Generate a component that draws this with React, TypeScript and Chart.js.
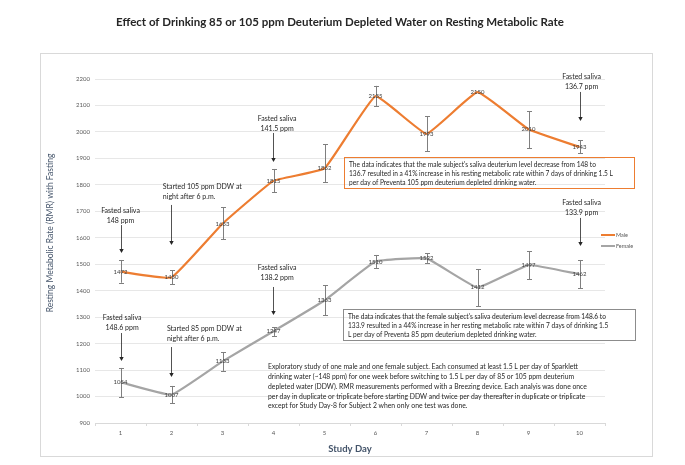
import React, { useEffect, useRef } from "react";
import { Chart, registerables } from "chart.js";

Chart.register(...registerables);

const days = ["1", "2", "3", "4", "5", "6", "7", "8", "9", "10"];
const yTicks = [900, 1000, 1100, 1200, 1300, 1400, 1500, 1600, 1700, 1800, 1900, 2000, 2100, 2200];

const maleValues = [1472, 1450, 1653, 1815, 1862, 2135, 1993, 2150, 2010, 1943];
const maleErrHigh = [1516, 1478, 1716, 1860, 1954, 2174, 2060, null, 2079, 1969];
const maleErrLow = [1430, 1425, 1595, 1773, 1811, 2098, 1928, null, 1939, 1920];

const femaleValues = [1054, 1007, 1133, 1247, 1363, 1510, 1522, 1412, 1497, 1462];
const femaleErrHigh = [1108, 1040, 1168, 1262, 1421, 1535, 1542, 1482, 1550, 1516];
const femaleErrLow = [998, 975, 1097, 1229, 1308, 1486, 1505, 1342, 1444, 1410];

const titleText = "Effect of Drinking 85 or 105 ppm Deuterium Depleted Water on Resting Metabolic Rate";
const xTitle = "Study Day";
const yTitle = "Resting Metabolic Rate (RMR) with Fasting";

// annotations: text anchored in data space (category index, value)
const annotations = [
  { lines: ["Fasted saliva", "148 ppm"], tx: 0, ty: 1701, align: "center", ax: 0, a1: 1648, a2: 1542 },
  { lines: ["Started 105 ppm DDW at", "night after 6 p.m."], tx: 0.83, ty: 1792, align: "left", ax: 0.99, a1: 1724, a2: 1573 },
  { lines: ["Fasted saliva", "141.5 ppm"], tx: 3.07, ty: 2049, align: "center", ax: 2.99, a1: 1996, a2: 1886 },
  { lines: ["Fasted saliva", "136.7 ppm"], tx: 9.04, ty: 2208, align: "center", ax: 9.0, a1: 2151, a2: 2041 },
  { lines: ["Fasted saliva", "133.9 ppm"], tx: 9.04, ty: 1731, align: "center", ax: 9.0, a1: 1675, a2: 1569 },
  { lines: ["Fasted saliva", "148.6 ppm"], tx: 0.03, ty: 1297, align: "center", ax: 0, a1: 1240, a2: 1134 },
  { lines: ["Started 85 ppm DDW at", "night after 6 p.m."], tx: 0.91, ty: 1255, align: "left", ax: 0.99, a1: 1187, a2: 1074 },
  { lines: ["Fasted saliva", "138.2 ppm"], tx: 3.07, ty: 1486, align: "center", ax: 2.99, a1: 1414, a2: 1308 },
];

const maleNote = [
  "The data indicates that the male subject's saliva deuterium level decrease from 148 to",
  "136.7 resulted in a 41% increase in his resting metabolic rate within 7 days of drinking 1.5 L",
  "per day of Preventa 105 ppm deuterium depleted drinking water.",
];
const femaleNote = [
  "The data indicates that the female subject's saliva deuterium level decrease from 148.6 to",
  "133.9 resulted in a 44% increase in her resting metabolic rate within 7 days of drinking 1.5",
  "L per day of Preventa 85 ppm deuterium depleted drinking water.",
];
const studyNote = [
  "Exploratory study of one male and one female subject. Each consumed at least 1.5 L per day of Sparklett",
  "drinking water (~148 ppm) for one week before switching to 1.5 L per day of 85 or 105 ppm deuterium",
  "depleted water (DDW). RMR measurements performed with a Breezing device. Each analyis was done once",
  "per day in duplicate or triplicate before starting DDW and twice per day thereafter in duplicate or triplicate",
  "except for Study Day-8 for Subject 2 when only one test was done.",
];

const MALE_COLOR = "#ED7D31";
const FEMALE_COLOR = "#A5A5A5";
const FONT = "Lato, 'Open Sans', sans-serif";

function drawLines(ctx: CanvasRenderingContext2D, lines: string[], x: number, y: number, lh: number, align: CanvasTextAlign) {
  ctx.textAlign = align;
  ctx.textBaseline = "middle";
  lines.forEach((l, i) => ctx.fillText(l, x, y + i * lh));
}

const decorPlugin = {
  id: "decor",
  beforeDraw(chart: any) {
    const ctx: CanvasRenderingContext2D = chart.ctx;
    ctx.save();
    ctx.fillStyle = "#ffffff";
    ctx.fillRect(0, 0, chart.width, chart.height);
    ctx.strokeStyle = "#d9d9d9";
    ctx.lineWidth = 1;
    ctx.strokeRect(40.5, 53.5, 612, 403);
    ctx.restore();
  },
  afterDatasetsDraw(chart: any) {
    const ctx: CanvasRenderingContext2D = chart.ctx;
    const xs = chart.scales.x;
    const ys = chart.scales.y;
    ctx.save();
    const drawErr = (hi: (number | null)[], lo: (number | null)[]) => {
      ctx.strokeStyle = "#7f7f7f";
      ctx.lineWidth = 1;
      hi.forEach((h, i) => {
        const l = lo[i];
        if (h == null || l == null) return;
        const x = Math.round(xs.getPixelForValue(i)) + 0.5;
        const y1 = ys.getPixelForValue(h);
        const y2 = ys.getPixelForValue(l);
        ctx.beginPath();
        ctx.moveTo(x, y1);
        ctx.lineTo(x, y2);
        ctx.moveTo(x - 2.5, Math.round(y1) + 0.5);
        ctx.lineTo(x + 2.5, Math.round(y1) + 0.5);
        ctx.moveTo(x - 2.5, Math.round(y2) + 0.5);
        ctx.lineTo(x + 2.5, Math.round(y2) + 0.5);
        ctx.stroke();
      });
    };
    drawErr(maleErrHigh, maleErrLow);
    drawErr(femaleErrHigh, femaleErrLow);
    ctx.fillStyle = "#404040";
    ctx.font = `6px ${FONT}`;
    ctx.textAlign = "center";
    ctx.textBaseline = "middle";
    maleValues.forEach((v, i) => ctx.fillText(String(v), xs.getPixelForValue(i), ys.getPixelForValue(v)));
    femaleValues.forEach((v, i) => ctx.fillText(String(v), xs.getPixelForValue(i), ys.getPixelForValue(v)));
    ctx.restore();
  },
  afterDraw(chart: any) {
    const ctx: CanvasRenderingContext2D = chart.ctx;
    const xs = chart.scales.x;
    const ys = chart.scales.y;
    ctx.save();
    ctx.fillStyle = "#262626";
    ctx.font = `bold 11.5px ${FONT}`;
    drawLines(ctx, [titleText], 340, 22, 0, "center");
    ctx.fillStyle = "#44546A";
    ctx.font = `bold 9.5px ${FONT}`;
    drawLines(ctx, [xTitle], 350, 449, 0, "center");
    ctx.save();
    ctx.translate(50, 233);
    ctx.rotate(-Math.PI / 2);
    ctx.font = `8.5px ${FONT}`;
    drawLines(ctx, [yTitle], 0, 0, 0, "center");
    ctx.restore();
    ctx.fillStyle = "#262626";
    ctx.strokeStyle = "#262626";
    ctx.font = `7px ${FONT}`;
    annotations.forEach((a) => {
      drawLines(ctx, a.lines, xs.getPixelForValue(a.tx), ys.getPixelForValue(a.ty), 9.5, a.align as CanvasTextAlign);
      const ax = Math.round(xs.getPixelForValue(a.ax)) + 0.5;
      const y1 = ys.getPixelForValue(a.a1);
      const y2 = ys.getPixelForValue(a.a2);
      ctx.lineWidth = 0.8;
      ctx.beginPath();
      ctx.moveTo(ax, y1);
      ctx.lineTo(ax, y2 - 3);
      ctx.stroke();
      ctx.beginPath();
      ctx.moveTo(ax - 2.2, y2 - 4);
      ctx.lineTo(ax + 2.2, y2 - 4);
      ctx.lineTo(ax, y2);
      ctx.closePath();
      ctx.fill();
    });
    ctx.font = `6.6px ${FONT}`;
    ctx.lineWidth = 1;
    ctx.strokeStyle = MALE_COLOR;
    ctx.strokeRect(344.5, 157.5, 290, 31);
    ctx.fillStyle = "#262626";
    drawLines(ctx, maleNote, 349, 165, 9, "left");
    ctx.strokeStyle = "#8c8c8c";
    ctx.strokeRect(343.5, 309.5, 292, 31);
    drawLines(ctx, femaleNote, 348, 317, 9, "left");
    ctx.font = `6.8px ${FONT}`;
    drawLines(ctx, studyNote, 268, 367, 9.8, "left");
    ctx.lineWidth = 2;
    ctx.strokeStyle = MALE_COLOR;
    ctx.beginPath();
    ctx.moveTo(601, 235);
    ctx.lineTo(615, 235);
    ctx.stroke();
    ctx.strokeStyle = FEMALE_COLOR;
    ctx.beginPath();
    ctx.moveTo(601, 246);
    ctx.lineTo(615, 246);
    ctx.stroke();
    ctx.fillStyle = "#595959";
    ctx.font = `5.5px ${FONT}`;
    drawLines(ctx, ["Male"], 616, 235, 0, "left");
    drawLines(ctx, ["Female"], 616, 246, 0, "left");
    ctx.restore();
  },
};

export default function App() {
  const ref = useRef<HTMLCanvasElement>(null);
  useEffect(() => {
    if (!ref.current) return;
    const chart = new Chart(ref.current, {
      type: "line",
      data: {
        labels: days,
        datasets: [
          { label: "Male", data: maleValues, borderColor: MALE_COLOR, borderWidth: 2.25, pointRadius: 0, tension: 0.1, fill: false },
          { label: "Female", data: femaleValues, borderColor: FEMALE_COLOR, borderWidth: 2.25, pointRadius: 0, tension: 0.1, fill: false },
        ],
      },
      options: {
        responsive: false,
        animation: false,
        layout: { padding: { left: 40, right: 80, top: 79, bottom: 22 } },
        plugins: { legend: { display: false }, title: { display: false }, tooltip: { enabled: false } },
        scales: {
          x: {
            offset: true,
            grid: { offset: true, drawOnChartArea: false, drawTicks: true, tickLength: 3, color: "#d9d9d9" },
            border: { display: true, color: "#d9d9d9" },
            ticks: { color: "#595959", font: { family: FONT, size: 6 }, padding: 3 },
            afterFit: (s: any) => { s.height = 20; },
          },
          y: {
            min: 900,
            max: 2200,
            afterBuildTicks: (s: any) => { s.ticks = yTicks.map((v) => ({ value: v })); },
            grid: { color: "#e7e7e7", drawTicks: false },
            border: { display: false },
            ticks: { color: "#595959", font: { family: FONT, size: 6 }, padding: 5, callback: (v: any) => String(v) },
            afterFit: (s: any) => { s.width = 55; },
          },
        },
      },
      plugins: [decorPlugin],
    });
    return () => chart.destroy();
  }, []);
  return (
    <div style={{ position: "fixed", left: 0, top: 0, width: 685, height: 465 }}>
      <canvas ref={ref} width={685} height={465} style={{ width: 685, height: 465 }} />
    </div>
  );
}
